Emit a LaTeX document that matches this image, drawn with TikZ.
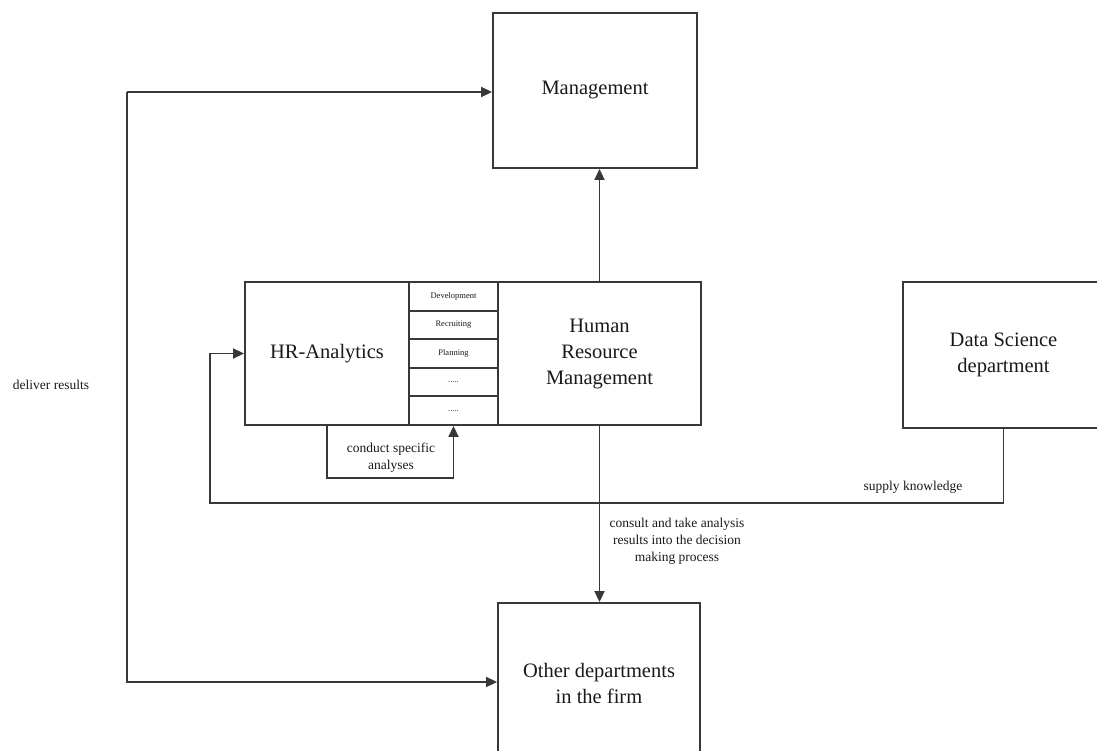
\documentclass[tikz,border=0pt]{standalone}
\usepackage{fontspec}
\setmainfont{Liberation Serif}
\usetikzlibrary{arrows.meta}
\begin{document}
\begin{tikzpicture}[x=1pt,y=-1pt,
 line/.style={draw=black!78, line width=1.9pt},
 box/.style={line, rectangle, inner sep=0pt, align=center, font=\fontsize{20.5}{26}\selectfont, text=black!90},
 cell/.style={line, rectangle, inner sep=0pt, minimum width=89pt, minimum height=28.6pt, font=\fontsize{8.5}{10}\selectfont, text=black!90},
 arr/.style={line, -{Triangle[length=11pt,width=10pt]}},
 lbl/.style={align=center, font=\fontsize{13.5}{17}\selectfont, text=black!90}]
\useasboundingbox (0,0) rectangle (1097,751);
\node[box, minimum width=204pt, minimum height=155pt] (mgmt) at (595,90.5) {Management};
\node[box, minimum width=164pt, minimum height=143pt] (hra) at (327,353.5) {HR-Analytics};
\node[cell] (c1) at (453.5,296.3) {Development};
\node[cell] (c2) at (453.5,324.9) {Recruiting};
\node[cell] (c3) at (453.5,353.5) {Planning};
\node[cell] (c4) at (453.5,382.1) {.....};
\node[cell] (c5) at (453.5,410.7) {.....};
\node[box, minimum width=203pt, minimum height=143pt] (hrm) at (599.5,353.5) {Human\\Resource\\Management};
\node[box, minimum width=201pt, minimum height=146pt] (ds) at (1003.5,355) {Data Science\\department};
\node[box, minimum width=202pt, minimum height=160pt] (other) at (599,683) {Other departments\\in the firm};

\coordinate (dtop) at (127,92);
\coordinate (dbot) at (127,682);
\coordinate (fb) at (210,503);

\draw[arr] (hrm.north) -- (hrm.north |- mgmt.south);
\draw[arr] (hrm.south) -- (hrm.south |- other.north);
\draw[arr] (dtop) -- (mgmt.west |- dtop);
\draw[arr] (dtop) -- (dbot) -- (other.west |- dbot);
\draw[arr] (ds.south) |- (fb) |- (hra.west);
\draw[arr] (hra.south) -- ++(0,52) -| (c5.south);

\node[lbl] (l1) at (51,385) {deliver results};
\node[lbl] (l2) at (391,458) {conduct specific\\analyses};
\node[lbl] (l3) at (677,541) {consult and take analysis\\results into the decision\\making process};
\node[lbl] (l4) at (913,487) {supply knowledge};
\end{tikzpicture}
\end{document}
